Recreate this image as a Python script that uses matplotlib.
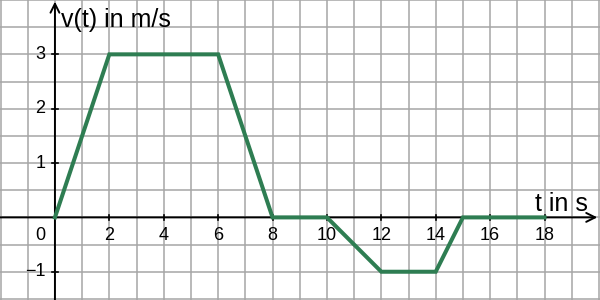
import numpy as np
import matplotlib
matplotlib.use("Agg")
import matplotlib.pyplot as plt

plt.rcParams['font.family'] = ['Liberation Sans', 'DejaVu Sans']

# data: velocity over time
t = [0, 2, 6, 8, 10, 12, 14, 15, 18]
v = [0, 3, 3, 0, 0, -1, -1, 0, 0]

x_ticks = [2, 4, 6, 8, 10, 12, 14, 16, 18]
y_ticks = [1, 2, 3, -1]
x_label = "t in s"
y_label = "v(t) in m/s"

XMIN, XMAX = -2.02, 20.04
YMIN, YMAX = -1.52, 4.0

fig = plt.figure(figsize=(6, 3), dpi=100)
ax = fig.add_axes([0, 0, 1, 1])
ax.set_xlim(XMIN, XMAX)
ax.set_ylim(YMIN, YMAX)
for s in ax.spines.values():
    s.set_visible(False)

# grid: 1 unit in t, 0.5 unit in v
ax.set_xticks(np.arange(-2, 21, 1))
ax.set_yticks(np.arange(-1.5, 4.01, 0.5))
ax.tick_params(length=0, labelbottom=False, labelleft=False)
ax.grid(True, color='#a6a6a6', lw=1.1)
ax.set_axisbelow(True)

# axes with open arrow heads
arrow = dict(arrowstyle='->', color='black', lw=1.4, mutation_scale=16,
             shrinkA=0, shrinkB=0)
ax.annotate('', xy=(XMAX - 0.1, 0), xytext=(XMIN, 0), arrowprops=arrow, zorder=3)
ax.annotate('', xy=(0, YMAX - 0.03), xytext=(0, YMIN), arrowprops=arrow, zorder=3)

# tick marks and labels
for x in x_ticks:
    ax.plot([x, x], [-0.05, 0.05], color='black', lw=1.2, zorder=3)
    ax.text(x, -0.33, str(x), ha='center', va='center', fontsize=13)
for y in y_ticks:
    ax.plot([-0.1, 0.1], [y, y], color='black', lw=1.2, zorder=3)
    lab = str(y).replace('-', '\u2212')
    ax.text(-0.35, y, lab, ha='right', va='center', fontsize=13)
ax.text(-0.55, -0.33, '0', ha='center', va='center', fontsize=13)

ax.text(0.22, 3.63, y_label, ha='left', va='center', fontsize=18)
ax.text(17.65, 0.24, x_label, ha='left', va='center', fontsize=18)

ax.plot(t, v, color='#2e7d52', lw=2.9, solid_joinstyle='miter', zorder=4)

fig.savefig('out.png', dpi=100)
